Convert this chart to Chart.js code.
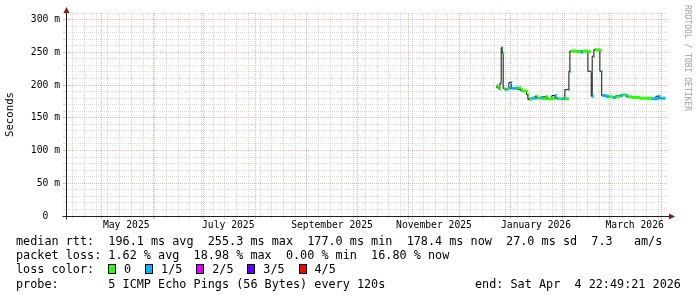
<!DOCTYPE html>
<html><head><meta charset="utf-8">
<script src="https://cdn.jsdelivr.net/npm/chart.js@4.4.1/dist/chart.umd.min.js"></script>
<style>
html,body{margin:0;padding:0;background:#fff;}
#wrap{position:relative;width:697px;height:297px;overflow:hidden;background:#fff;}
#c{position:absolute;left:0;top:0;}
.t{position:absolute;font-family:'DejaVu Sans Mono',monospace;font-size:11.8px;line-height:14px;white-space:pre;color:#000;}
.box{position:absolute;box-sizing:border-box;width:8px;height:10px;border:1px solid #000;}
#wm{position:absolute;left:692px;top:5px;transform-origin:0 0;transform:rotate(90deg);font-family:'DejaVu Sans Mono',monospace;font-size:8px;line-height:10px;white-space:pre;color:#a0a0a0;}
</style></head><body>
<div id="wrap">
<canvas id="c" width="697" height="297"></canvas>
<div id="wm">RRDTOOL / TOBI OETIKER</div>
<div class="t" style="left:16px;top:233.5px">median rtt:  196.1 ms avg  255.3 ms max  177.0 ms min  178.4 ms now  27.0 ms sd  7.3   am/s</div>
<div class="t" style="left:16px;top:247.5px">packet loss: 1.62 % avg  18.98 % max  0.00 % min  16.80 % now</div>
<div class="t" style="left:16px;top:261.5px">loss color:</div>
<div id="lossLegend"></div>
<div class="t" style="left:16px;top:276.5px">probe:       5 ICMP Echo Pings (56 Bytes) every 120s</div>
<div class="t" style="left:475px;top:276.5px">end: Sat Apr  4 22:49:21 2026</div>
</div>
<script>
// ---- data (days since 2026-01-01, median RTT in ms, lost pings out of 5) ----
const sampleDays = [-8.37,-7.48,-6.58,-5.80,-5.20,-4.61,-3.95,-3.29,-2.09,-1.20,0.18,0.78,2.99,4.19,5.98,7.18,9.39,10.17,10.94,12.38,14.35,15.37,16.33,17.64,19.14,20.93,22.13,24.52,26.32,27.51,28.41,30.20,32.30,34.69,35.29,35.89,38.88,41.27,42.17,43.36,46.05,48.03,48.62,49.64,50.24,53.23,54.31,54.90,56.82,58.61,61.00,62.80,65.19,66.99,68.78,69.98,72.37,77.15,81.94,84.33,86.72,88.52,89.41,92.40];
const medianMs   = [199,196,194,203,257,249,195,193,194,195,204,195,195,196,193,191,191,185,178,180,180,183,180,181,179,182,179,179,184,180,179,179,179,193,221,252,251,252,250,252,251,221,183,244,254,253,221,184,183,182,181,182,184,185,184,182,181,180,180,179,179,183,180,180];
const lossFifths = [0,0,0,1,1,0,0,1,0,1,1,1,1,0,0,0,0,0,0,1,1,0,0,1,0,0,0,0,1,1,0,1,0,1,1,0,0,0,1,0,0,1,1,0,0,0,0,1,1,0,1,0,1,0,1,0,0,0,0,1,1,1,1,1];
const lossColors = ['#26ff00','#00b8ff','#dd00ff','#5e00ff','#ff0000'];
const lossLabels = ['0','1/5','2/5','3/5','4/5'];
const xTickLabels = ['May 2025','July 2025','September 2025','November 2025','January 2026','March 2026'];
const xTickMonths = [[2025,4],[2025,6],[2025,8],[2025,10],[2026,0],[2026,2]];
const yTickLabels = ['0  ','50 m','100 m','150 m','200 m','250 m','300 m'];

const DAY = 864e5;
const T0 = Date.UTC(2026,0,1);
const endTime = Date.UTC(2026,3,4,22,49,21);
const startTime = endTime - 360*DAY;
const xs = sampleDays.map(d => T0 + d*DAY);

// loss legend
(function(){
  const host = document.getElementById('lossLegend');
  let x = 108;
  lossLabels.forEach((lab,i)=>{
    const b = document.createElement('div'); b.className='box';
    b.style.left = x+'px'; b.style.top='264px'; b.style.background=lossColors[i];
    host.appendChild(b);
    const t = document.createElement('div'); t.className='t';
    t.style.left=(x+16)+'px'; t.style.top='261.5px'; t.textContent=lab;
    host.appendChild(t);
    x = x + 16 + lab.length*7.05 + 14;
  });
})();

// x ticks: weekly minor, monthly major, mid-month labels
const xTicks = [];
const monthSet = new Set();
for (let y=2025,m=0; y<2027; ){
  const t = Date.UTC(y,m,1);
  if (t>startTime && t<endTime){ xTicks.push({value:t,kind:'major'}); monthSet.add(t); }
  m++; if(m>11){m=0;y++;}
}
const weekStartDay = 1;
let w = Date.UTC(2025,3,9);
while (new Date(w).getUTCDay()!==weekStartDay) w += DAY;
for (; w<endTime; w+=7*DAY){ if(w>startTime && !monthSet.has(w)) xTicks.push({value:w,kind:'minor'}); }
xTickMonths.forEach((ym,i)=>{ xTicks.push({value:Date.UTC(ym[0],ym[1],1)+15*DAY,kind:'label',txt:xTickLabels[i]}); });
xTicks.sort((a,b)=>a.value-b.value);

const yTicks = [];
for (let v=0; v<=310; v+=10){ yTicks.push({value:v, kind: v%50===0?'major':'minor', txt: v%50===0? yTickLabels[v/50] : ''}); }

const minorCol = 'rgba(143,143,143,0.3)';
const majorCol = 'rgba(222,79,79,0.42)';
const gridColor = ctx => { const k = ctx.tick && ctx.tick.kind; return k==='major'?majorCol : k==='minor'?minorCol : 'rgba(0,0,0,0)'; };

function lossSegments(code){
  const pts=[];
  for (let i=0;i<xs.length-1;i++){
    if (lossFifths[i]!==code) continue;
    pts.push({x:xs[i],y:medianMs[i]},{x:xs[i+1],y:medianMs[i]},{x:xs[i+1],y:null});
  }
  return pts;
}

const datasets = [];
lossColors.forEach((c,i)=>{
  datasets.push({label:lossLabels[i], data:lossSegments(i), borderColor:c, borderWidth:3, borderCapStyle:'butt', pointRadius:0, spanGaps:false, order:1, tension:0});
});
datasets.push({label:'median', data: xs.map((x,i)=>({x, y:medianMs[i]})), borderColor:'#111', borderWidth:1, stepped:'after', pointRadius:0, order:2});

const axisDeco = {
  id:'axisDeco',
  afterDraw(chart){
    const {ctx, chartArea:a} = chart;
    const L = Math.round(a.left)+0.5, B = Math.round(a.bottom)+0.5, T = Math.round(a.top), R = Math.round(a.right);
    ctx.save();
    ctx.strokeStyle = '#1f1f1f'; ctx.lineWidth = 1;
    ctx.beginPath();
    ctx.moveTo(L-4, B); ctx.lineTo(R+3, B);
    ctx.moveTo(L, B+3); ctx.lineTo(L, T-3);
    ctx.stroke();
    ctx.fillStyle = '#801f1f';
    ctx.beginPath(); ctx.moveTo(L, T-6); ctx.lineTo(L-3, T); ctx.lineTo(L+3, T); ctx.closePath(); ctx.fill();
    ctx.beginPath(); ctx.moveTo(R+7, B); ctx.lineTo(R+1, B-3); ctx.lineTo(R+1, B+3); ctx.closePath(); ctx.fill();
    ctx.restore();
  }
};

const axFont = {family:'DejaVu Sans Mono', size:9.7};
new Chart(document.getElementById('c'), {
  type:'line',
  data:{datasets},
  plugins:[axisDeco],
  options:{
    responsive:false, animation:false, devicePixelRatio:1,
    layout:{padding:{top:13,right:29,left:0,bottom:0}},
    plugins:{legend:{display:false}, tooltip:{enabled:false}},
    elements:{line:{tension:0}},
    scales:{
      x:{type:'linear', min:startTime, max:endTime,
        afterBuildTicks: s => { s.ticks = xTicks.map(t=>Object.assign({},t)); },
        afterFit: s => { s.height = 81; },
        ticks:{autoSkip:false, maxRotation:0, minRotation:0, padding:1, font:axFont, color:'#000',
          callback:(v,i,t)=> (t[i] && t[i].txt) || ''},
        grid:{color:gridColor, tickColor:gridColor, tickLength:3, lineWidth:1, offset:false},
        border:{display:false, dash:[1,1]}
      },
      y:{min:0, max:310,
        afterBuildTicks: s => { s.ticks = yTicks.map(t=>Object.assign({},t)); },
        afterFit: s => { s.width = 66; },
        ticks:{autoSkip:false, padding:3, font:axFont, color:'#000',
          callback:(v,i,t)=> (t[i] && t[i].txt) || ''},
        grid:{color:gridColor, tickColor:gridColor, tickLength:3, lineWidth:1},
        border:{display:false, dash:[1,1]},
        title:{display:true, text:'Seconds', color:'#000', font:{family:'DejaVu Sans Mono', size:10.7}, padding:{top:4,bottom:0}}
      }
    }
  }
});
</script>
</body></html>
